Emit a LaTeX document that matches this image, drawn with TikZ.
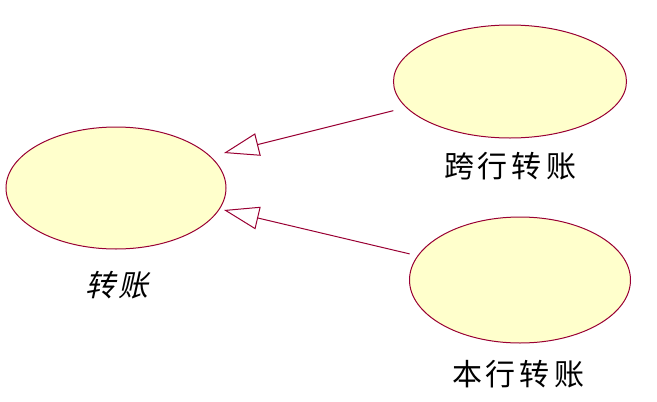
\documentclass[tikz,border=0pt]{standalone}
\usepackage{fontspec}
\newfontfamily\cjk{Noto Sans CJK SC}
\newfontfamily\cjkit[FakeSlant=0.22]{Noto Sans CJK SC}
\usetikzlibrary{shapes.geometric,arrows.meta}
\definecolor{ucline}{RGB}{153,0,51}
\definecolor{ucfill}{RGB}{255,255,204}
\newcommand{\gs}{\kern4pt}
\begin{document}
\begin{tikzpicture}[x=1pt,y=-1pt,
  usecase/.style={ellipse,draw=ucline,fill=ucfill,line width=1pt,inner sep=0pt},
  lbl/.style={font=\cjk\fontsize{30}{30}\selectfont,inner sep=0pt},
  gen/.style={draw=ucline,line width=1pt,-{Triangle[open,length=35pt,width=23pt,fill=white]}}]
\useasboundingbox (0,0) rectangle (657,402);
\node[usecase,minimum width=220pt,minimum height=122pt] (base) at (116,188) {};
\node[usecase,minimum width=233pt,minimum height=113pt] (top) at (510,81.5) {};
\node[usecase,minimum width=221pt,minimum height=126pt] (bot) at (520,280) {};
\node[lbl,font=\cjkit\fontsize{30}{30}\selectfont] (lbase) at (117,285) {转\gs 账};
\node[lbl] (ltop) at (510,166) {跨\gs 行\gs 转\gs 账};
\node[lbl] (lbot) at (518,374) {本\gs 行\gs 转\gs 账};
\coordinate (t1) at (224,153);
\coordinate (t2) at (224,210);
\draw[gen,shorten <=13pt] (top) -- (t1);
\draw[gen,shorten <=8pt] (bot) -- (t2);
\end{tikzpicture}
\end{document}
